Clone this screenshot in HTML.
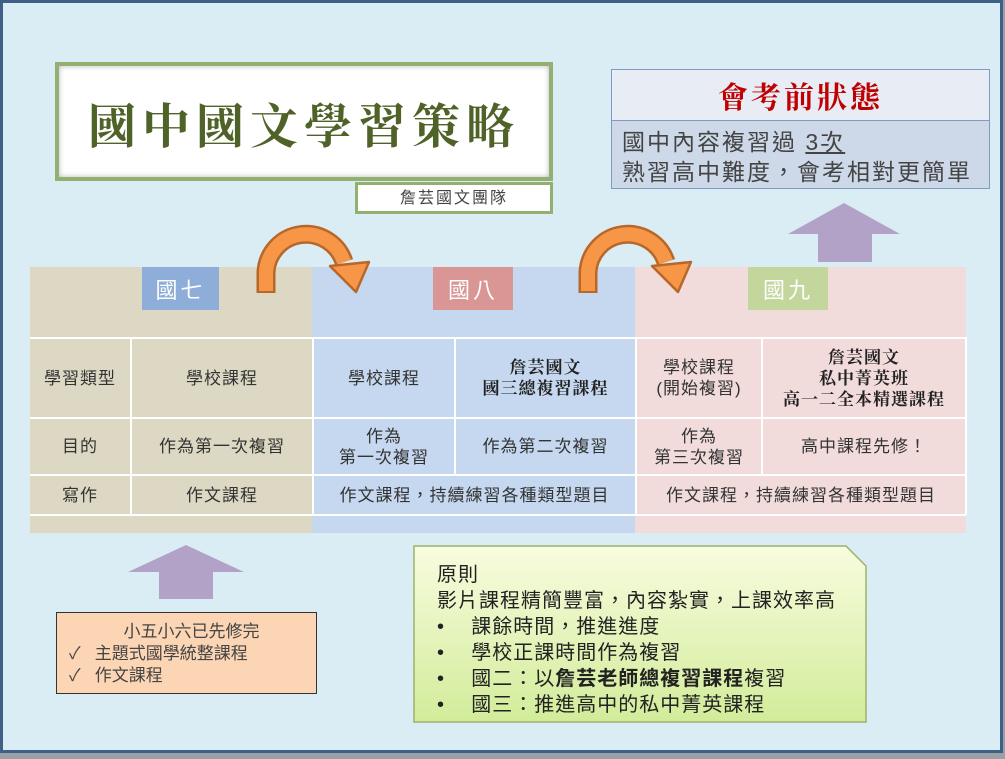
<!DOCTYPE html>
<html><head><meta charset="utf-8"><style>
*{margin:0;padding:0;box-sizing:border-box}
body{width:1005px;height:759px;overflow:hidden;background:#9aa0a8;font-family:"Liberation Sans","Noto Sans CJK TC",sans-serif;position:relative}
.a{position:absolute}
#frame{left:0;top:0;width:1003px;height:753px;background:#dbedf4;border:3px solid #3e5f86}
.c{display:flex;align-items:center;justify-content:center;text-align:center;color:#333;font-size:17px;line-height:21px;letter-spacing:1px}
.lbl{color:#fff;font-size:22px;display:flex;align-items:center;justify-content:center;letter-spacing:3px}
.hl{background:#fff;height:2px}
.vl{background:#fff;width:2px}
b{font-family:"Liberation Serif","Noto Serif CJK SC",serif;font-weight:bold;color:#222}
</style></head><body>
<div class="a" id="frame"></div>

<!-- title -->
<div class="a" style="left:55px;top:62px;width:498px;height:119px;background:#fff;border:4px solid #92b070;box-shadow:inset 0 0 6px #bbb"></div>
<div class="a c" style="left:60px;top:70px;width:488px;height:105px;font-family:'Noto Serif CJK SC',serif;font-size:48px;color:#4f6228;letter-spacing:6px;font-weight:bold;white-space:nowrap">國中國文學習策略</div>
<div class="a c" style="left:355px;top:182px;width:198px;height:32px;background:#fff;border:3px solid #92b070;font-size:16px;color:#444;letter-spacing:2px">詹芸國文團隊</div>

<!-- top-right box -->
<div class="a c" style="left:611px;top:69px;width:379px;height:52px;background:#e8edf5;border:1px solid #7f9bbf;color:#c00000;font-size:30px;font-weight:bold;font-family:'Noto Serif CJK SC',serif;letter-spacing:3px">會考前狀態</div>
<div class="a" style="left:611px;top:120px;width:379px;height:69px;background:#cdd8e8;border:1px solid #7f9bbf;color:#444;font-size:23px;line-height:30px;padding:6px 0 0 10px;letter-spacing:2px">國中內容複習過 <u>3次</u><br>熟習高中難度，會考相對更簡單</div>

<!-- column backgrounds -->
<div class="a" style="left:30px;top:267px;width:282px;height:266px;background:#ddd8c3"></div>
<div class="a" style="left:312px;top:267px;width:323px;height:266px;background:#c5d8ef"></div>
<div class="a" style="left:635px;top:267px;width:331px;height:266px;background:#f2dcdb"></div>
<div class="a lbl" style="left:142px;top:267px;width:77px;height:43px;background:#8eadd8">國七</div>
<div class="a lbl" style="left:433px;top:267px;width:80px;height:43px;background:#da9694">國八</div>
<div class="a lbl" style="left:748px;top:267px;width:80px;height:43px;background:#c3d69b">國九</div>

<!-- grid lines -->
<div class="a hl" style="left:30px;top:337px;width:936px"></div>
<div class="a hl" style="left:30px;top:417px;width:936px"></div>
<div class="a hl" style="left:30px;top:474px;width:936px"></div>
<div class="a hl" style="left:30px;top:514px;width:936px"></div>
<div class="a vl" style="left:130px;top:337px;height:178px"></div>
<div class="a vl" style="left:312px;top:337px;height:178px"></div>
<div class="a vl" style="left:454px;top:337px;height:138px"></div>
<div class="a vl" style="left:635px;top:337px;height:178px"></div>
<div class="a vl" style="left:761px;top:337px;height:138px"></div>
<div class="a vl" style="left:965px;top:337px;height:178px"></div>

<!-- row 1 -->
<div class="a c" style="left:30px;top:339px;width:100px;height:78px">學習類型</div>
<div class="a c" style="left:132px;top:339px;width:180px;height:78px">學校課程</div>
<div class="a c" style="left:314px;top:339px;width:140px;height:78px">學校課程</div>
<div class="a c" style="left:456px;top:339px;width:179px;height:78px"><b>詹芸國文<br>國三總複習課程</b></div>
<div class="a c" style="left:637px;top:339px;width:124px;height:78px">學校課程<br>(開始複習)</div>
<div class="a c" style="left:763px;top:339px;width:202px;height:78px"><b>詹芸國文<br>私中菁英班<br>高一二全本精選課程</b></div>
<!-- row 2 -->
<div class="a c" style="left:30px;top:419px;width:100px;height:55px">目的</div>
<div class="a c" style="left:132px;top:419px;width:180px;height:55px">作為第一次複習</div>
<div class="a c" style="left:314px;top:419px;width:140px;height:55px">作為<br>第一次複習</div>
<div class="a c" style="left:456px;top:419px;width:179px;height:55px">作為第二次複習</div>
<div class="a c" style="left:637px;top:419px;width:124px;height:55px">作為<br>第三次複習</div>
<div class="a c" style="left:763px;top:419px;width:202px;height:55px">高中課程先修！</div>
<!-- row 3 -->
<div class="a c" style="left:30px;top:476px;width:100px;height:38px">寫作</div>
<div class="a c" style="left:132px;top:476px;width:180px;height:38px">作文課程</div>
<div class="a c" style="left:314px;top:476px;width:321px;height:38px">作文課程，持續練習各種類型題目</div>
<div class="a c" style="left:637px;top:476px;width:328px;height:38px">作文課程，持續練習各種類型題目</div>

<!-- arrows -->
<svg class="a" style="left:0;top:0" width="1005" height="759">
<g id="arc">
<path d="M266,293 L266,272 A40,40 0 0 1 344,262" fill="none" stroke="#b8672a" stroke-width="19"/>
<path d="M266,291 L266,272 A40,40 0 0 1 344,262" fill="none" stroke="#f79646" stroke-width="14"/>
<polygon points="330,266 369,262 356,292" fill="#f79646" stroke="#b8672a" stroke-width="2.5" stroke-linejoin="round"/>
</g>
<use href="#arc" x="322" y="0"/>
<polygon points="844,203 900,234 872,234 872,262 818,262 818,234 788,234" fill="#b3a2c7"/>
<polygon points="186,545 244,572 213,572 213,599 159,599 159,572 128,572" fill="#b3a2c7"/>
<defs><linearGradient id="g" x1="0" y1="0" x2="0" y2="1"><stop offset="0" stop-color="#f8fcdf"/><stop offset="1" stop-color="#d2ec9a"/></linearGradient></defs>
<polygon points="414,546 846,546 866,566 866,722 414,722" fill="url(#g)" stroke="#9bb26b" stroke-width="1.5"/>
</svg>

<!-- orange box -->
<div class="a" style="left:56px;top:612px;width:261px;height:82px;background:#fcd5b5;border:1px solid #333;font-size:17px;color:#444;line-height:22px;padding-top:8px">
<div style="text-align:center;padding-left:10px">小五小六已先修完</div>
<div style="padding-left:12px">✓&nbsp;&nbsp;&nbsp;主題式國學統整課程</div>
<div style="padding-left:12px">✓&nbsp;&nbsp;&nbsp;作文課程</div>
</div>

<!-- green box text -->
<div class="a" style="left:437px;top:562px;width:430px;font-size:20px;line-height:26px;color:#222;letter-spacing:1px;white-space:nowrap">
<div>原則</div>
<div>影片課程精簡豐富，內容紮實，上課效率高</div>
<div>•&nbsp;&nbsp;&nbsp;&nbsp;課餘時間，推進進度</div>
<div>•&nbsp;&nbsp;&nbsp;&nbsp;學校正課時間作為複習</div>
<div>•&nbsp;&nbsp;&nbsp;&nbsp;國二：以<b style="font-family:'Liberation Sans','Noto Sans CJK TC',sans-serif">詹芸老師總複習課程</b>複習</div>
<div>•&nbsp;&nbsp;&nbsp;&nbsp;國三：推進高中的私中菁英課程</div>
</div>
</body></html>
